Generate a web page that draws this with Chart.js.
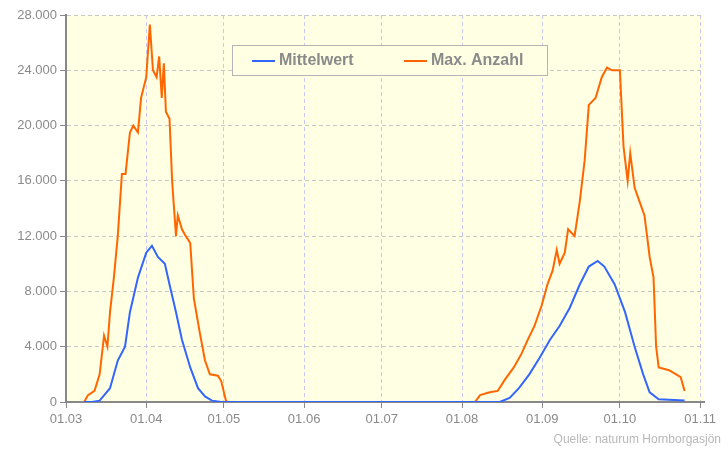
<!DOCTYPE html>
<html>
<head>
<meta charset="utf-8">
<script src="https://cdn.jsdelivr.net/npm/chart.js@4/dist/chart.umd.min.js"></script>
<style>
  body { margin: 0; background: #fff; }
</style>
</head>
<body>
<canvas id="graph" width="728" height="452"></canvas>
<script>
// Tage ab 01.03.
const maxDays = [7, 8.5, 11, 13, 14.7, 16, 17, 18.5, 20, 21.6, 23, 24.7, 26, 27.8, 29, 31, 32.4, 33.6, 35, 36, 37, 37.8, 38.6, 40, 41, 42.5, 43.2, 44.8, 46.3, 48, 49.4, 51.7, 53.7, 55.6, 58.7, 60, 61.8, 62.5,
  158, 160, 163.7, 166.8, 169.5, 173, 176, 178.4, 181, 183.8, 186, 188, 189.6, 190.7, 192.7, 194, 196.5, 198.5, 200.4, 202, 204.6, 207, 209, 211, 214, 215.4, 217, 218, 219.7, 221.6, 223.5, 225.5, 227, 228, 229, 233, 237.5, 239];
const maxWerte = [0, 500, 800, 2000, 4800, 4000, 6500, 9000, 12000, 16500, 16500, 19500, 20000, 19500, 22000, 23500, 27300, 24000, 23500, 25000, 22000, 24500, 21000, 20500, 16000, 12000, 13500, 12500, 12000, 11500, 7500, 5000, 3000, 2000, 1900, 1500, 100, 0,
  0, 500, 700, 800, 1600, 2500, 3500, 4500, 5500, 7000, 8500, 9500, 11000, 10000, 10800, 12500, 12000, 14500, 17500, 21500, 22000, 23500, 24200, 24000, 24000, 18500, 16000, 18000, 15500, 14500, 13500, 10500, 9000, 4000, 2500, 2300, 1800, 800];

const mittelDays = [7, 10, 13, 17, 20, 22.8, 24.7, 27.8, 31, 33.2, 35.5, 38.2, 40, 42.5, 44.8, 48, 51, 53.7, 56.4, 60,
  167.6, 171.4, 175, 179, 183, 187, 190.7, 194.6, 198.5, 202, 205.4, 208, 212, 216, 219.7, 223, 225.5, 229, 239];
const mittelWerte = [0, 0, 100, 1000, 3000, 4000, 6500, 9000, 10800, 11300, 10500, 10000, 8500, 6500, 4500, 2500, 1000, 400, 100, 0,
  0, 300, 1000, 2000, 3200, 4500, 5500, 6800, 8500, 9800, 10200, 9800, 8500, 6500, 4000, 2000, 700, 200, 100];

const monatTage = [0, 31, 61, 92, 122, 153, 184, 214, 245];
const monatLabels = ['01.03', '01.04', '01.05', '01.06', '01.07', '01.08', '01.09', '01.10', '01.11'];

function punkte(xs, ys) {
  return xs.map((x, i) => ({ x: x, y: ys[i] }));
}

// Hintergrund, Legende und Quelle
const extras = {
  id: 'extras',
  beforeDraw(chart) {
    const { ctx, chartArea: a } = chart;
    ctx.save();
    ctx.fillStyle = '#ffffe3';
    ctx.fillRect(a.left, a.top, a.right - a.left, a.bottom - a.top);
    ctx.restore();
  },
  afterDraw(chart) {
    const ctx = chart.ctx;
    ctx.save();
    ctx.fillStyle = '#ffffe3';
    ctx.fillRect(232, 45, 315, 30);
    ctx.strokeStyle = '#b4b4b4';
    ctx.lineWidth = 1;
    ctx.strokeRect(232.5, 45.5, 315, 30);
    ctx.lineWidth = 2;
    ctx.strokeStyle = '#3366ff';
    ctx.beginPath(); ctx.moveTo(252, 61); ctx.lineTo(275, 61); ctx.stroke();
    ctx.strokeStyle = '#ff6600';
    ctx.beginPath(); ctx.moveTo(404, 61); ctx.lineTo(427, 61); ctx.stroke();
    ctx.fillStyle = '#8a8a8a';
    ctx.font = 'bold 16px "Liberation Sans", Arial, sans-serif';
    ctx.textBaseline = 'middle';
    ctx.fillText('Mittelwert', 279, 61);
    ctx.fillText('Max. Anzahl', 431, 61);
    ctx.font = '12px "Liberation Sans", Arial, sans-serif';
    ctx.fillStyle = '#b8b8b8';
    ctx.textAlign = 'right';
    ctx.fillText('Quelle: naturum Hornborgasjön', 721, 440);
    ctx.restore();
  }
};

new Chart(document.getElementById('graph').getContext('2d'), {
  type: 'line',
  data: {
    datasets: [
      { label: 'Mittelwert', data: punkte(mittelDays, mittelWerte), borderColor: '#3366ff', borderWidth: 2, pointRadius: 0, tension: 0 },
      { label: 'Max. Anzahl', data: punkte(maxDays, maxWerte), borderColor: '#ff6600', borderWidth: 2, pointRadius: 0, tension: 0 }
    ]
  },
  options: {
    responsive: false,
    animation: false,
    devicePixelRatio: 1,
    layout: { padding: { top: 15, right: 24, left: 0, bottom: 0 } },
    plugins: { legend: { display: false }, tooltip: { enabled: false } },
    scales: {
      x: {
        type: 'linear', min: 0, max: 246.5,
        afterBuildTicks: s => { s.ticks = monatTage.map(v => ({ value: v })); },
        afterFit: s => { s.height = 50; },
        ticks: { color: '#8a8a8a', font: { size: 13, family: 'Liberation Sans' }, padding: 4,
          maxRotation: 0, minRotation: 0, autoSkip: false,
          callback: v => monatLabels[monatTage.indexOf(v)] },
        grid: { color: '#c8c8f0', tickLength: 6, tickColor: '#888' },
        border: { color: '#888', width: 2, dash: [4, 3] }
      },
      y: {
        min: 0, max: 28000,
        afterFit: s => { s.width = 66; },
        ticks: { stepSize: 4000, color: '#8a8a8a', font: { size: 13, family: 'Liberation Sans' },
          callback: v => v.toLocaleString('de-DE') },
        grid: { color: '#c8c8c8', tickLength: 6, tickColor: '#888' },
        border: { color: '#888', width: 2, dash: [4, 3] }
      }
    }
  },
  plugins: [extras]
});
</script>
</body>
</html>
